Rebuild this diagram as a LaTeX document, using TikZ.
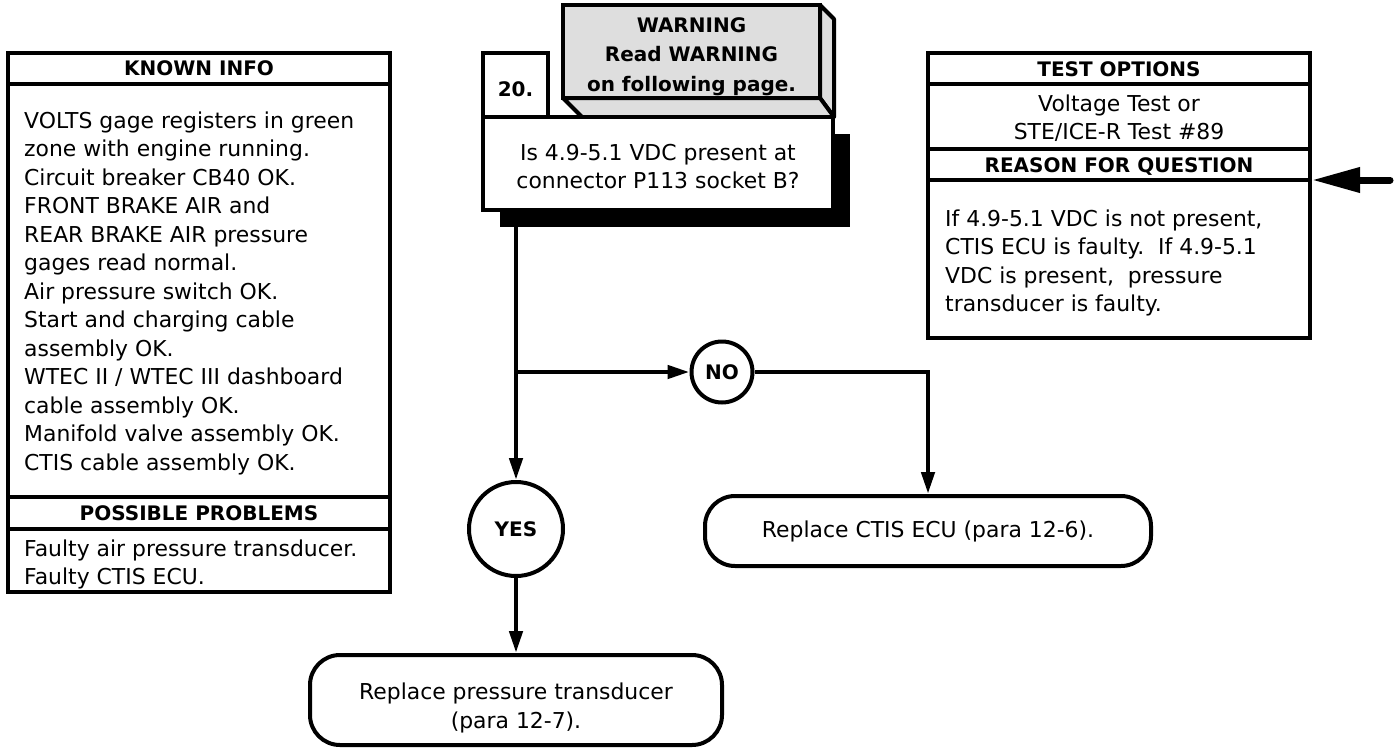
\documentclass[tikz,border=0pt]{standalone}
\usepackage{fontspec}
\setmainfont{DejaVu Sans}
\usetikzlibrary{arrows.meta}
\definecolor{warngray}{RGB}{222,222,222}
\newcommand{\regfont}{\fontsize{21.9}{28.5}\selectfont}
\newcommand{\hdfont}{\fontsize{20}{29.5}\selectfont\bfseries}
\begin{document}
\begin{tikzpicture}[x=1pt,y=-1pt,
  frame/.style={draw=black, line width=4pt, fill=white},
  sep/.style={draw=black, line width=4pt},
  regtxt/.style={font=\regfont, inner sep=0pt},
  hdtxt/.style={font=\hdfont, inner sep=0pt},
  circ/.style={circle, draw=black, line width=4pt, fill=white, inner sep=0pt, font=\hdfont},
  endbox/.style={rectangle, rounded corners=30pt, draw=black, line width=4pt, fill=white, inner sep=0pt, font=\regfont},
  arr/.style={line width=4.5pt, -{Triangle[length=22pt,width=13pt]}},
  bigarr/.style={line width=7pt, line cap=round, -{Triangle[length=48pt,width=24pt]}}
]
\useasboundingbox (0,0) rectangle (1399,752);

% KNOWN INFO / POSSIBLE PROBLEMS panel
\node[frame, rectangle, minimum width=382pt, minimum height=539pt, inner sep=0pt] (kbox) at (199,322.5) {};
\draw[sep] (8,84) -- (390,84);
\draw[sep] (8,497) -- (390,497);
\draw[sep] (8,529) -- (390,529);
\node[hdtxt, anchor=base] (khead) at (199,75.3) {KNOWN INFO};
\node[regtxt, anchor=base west, align=left] (kbody) at (24,470) {VOLTS gage registers in green\\zone with engine running.\\Circuit breaker CB40 OK.\\FRONT BRAKE AIR and\\REAR BRAKE AIR pressure\\gages read normal.\\Air pressure switch OK.\\Start and charging cable\\assembly OK.\\WTEC II / WTEC III dashboard\\cable assembly OK.\\Manifold valve assembly OK.\\CTIS cable assembly OK.};
\node[hdtxt, anchor=base] (phead) at (199,520.3) {POSSIBLE PROBLEMS};
\node[regtxt, anchor=base west, align=left] (pbody) at (24,584.5) {Faulty air pressure transducer.\\Faulty CTIS ECU.};

% TEST OPTIONS / REASON panel
\node[frame, rectangle, minimum width=382pt, minimum height=285pt, inner sep=0pt] (rbox) at (1119,195.5) {};
\draw[sep] (928,84) -- (1310,84);
\draw[sep] (928,149) -- (1310,149);
\draw[sep] (928,180) -- (1310,180);
\node[hdtxt, anchor=base] (thead) at (1119,76.3) {TEST OPTIONS};
\node[regtxt, anchor=base, align=center] (tbody) at (1119,139.5) {Voltage Test or\\STE/ICE-R Test \#89};
\node[hdtxt, anchor=base] (rhead) at (1119,172.3) {REASON FOR QUESTION};
\node[regtxt, anchor=base west, align=left] (rbody) at (945,311.5) {If 4.9-5.1 VDC is not present,\\CTIS ECU is faulty.\ \ If 4.9-5.1\\VDC is present,\ \ pressure\\transducer is faulty.};
\coordinate (rin) at (1390,180);
\draw[bigarr] (rin) -- (rin -| rbox.east);

% WARNING 3D box
\filldraw[fill=warngray, draw=black, line width=4pt, line join=round] (820,5) -- (834,19) -- (834,117) -- (820,98) -- cycle;
\filldraw[fill=warngray, draw=black, line width=4pt, line join=round] (563,98) -- (820,98) -- (834,117) -- (582,117) -- cycle;
\node[rectangle, draw=black, fill=warngray, line width=4pt, minimum width=257pt, minimum height=93pt, inner sep=0pt] (warn) at (691.5,51.5) {};
\node[hdtxt, anchor=base, align=center] (wtxt) at (691.5,91.3) {WARNING\\Read WARNING\\on following page.};

% step number box
\node[frame, rectangle, minimum width=65pt, minimum height=64pt, inner sep=0pt] (num) at (515.5,85) {};
\node[hdtxt, anchor=base] (numtxt) at (515.5,96.3) {20.};

% question box with shadow
\fill[black] (500,134) rectangle (850,227);
\node[frame, rectangle, minimum width=350pt, minimum height=93pt, inner sep=0pt] (q) at (658,163.5) {};
\node[regtxt, anchor=base, align=center] (qtxt) at (658,188.5) {Is 4.9-5.1 VDC present at\\connector P113 socket B?};

% decision circles
\node[circ, minimum size=61pt] (no) at (722,372) {NO};
\node[circ, minimum size=94pt] (yes) at (516,529) {YES};

% end boxes
\node[endbox, minimum width=446pt, minimum height=70pt] (ctis) at (928,531) {Replace CTIS ECU (para 12-6).};
\node[endbox, minimum width=412pt, minimum height=90pt] (pres) at (516,700) {};
\node[regtxt, anchor=base, align=center] (prestxt) at (516,728) {Replace pressure transducer\\(para 12-7).};

% connectors
\draw[arr] (q.south -| yes.north) -- (yes.north);
\draw[arr] (no -| yes) -- (no.west);
\draw[arr] (no.east) -| (ctis.north);
\draw[arr] (yes.south) -- (pres.north);
\end{tikzpicture}
\end{document}
